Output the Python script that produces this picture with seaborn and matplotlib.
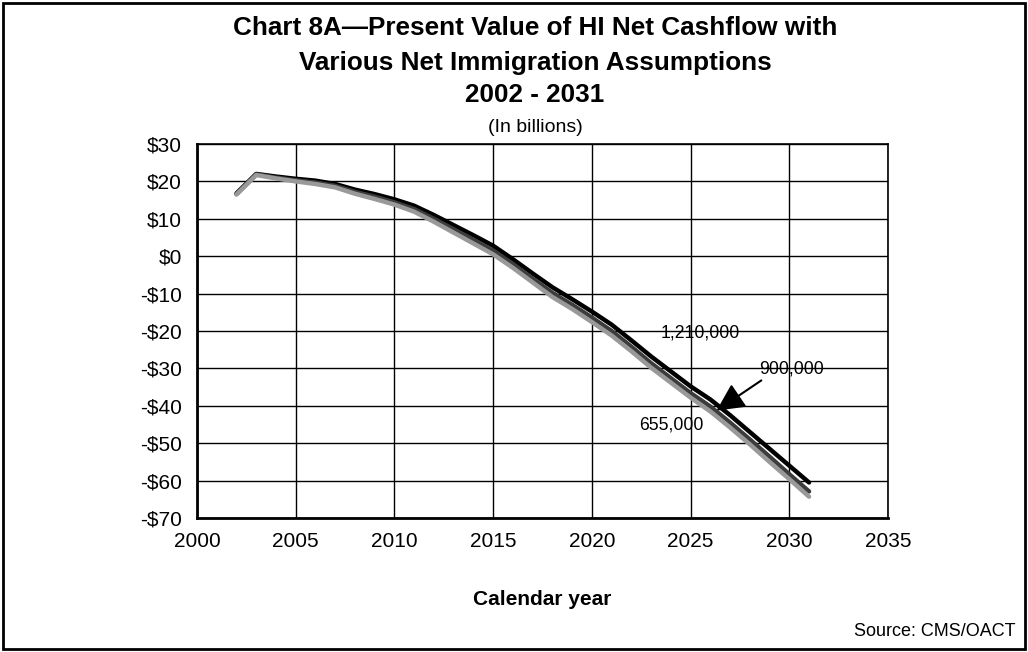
import numpy as np
import pandas as pd
import matplotlib
matplotlib.use("Agg")
import matplotlib.pyplot as plt
from matplotlib.patches import Rectangle
import seaborn as sns

# Present value of HI net cashflow (billions of dollars) by net immigration assumption
years = list(range(2002, 2032))
pv_1210k = [16.8, 22.0, 21.3, 20.7, 20.2, 19.3, 17.8, 16.6, 15.2, 13.5,
            11.0, 8.3, 5.6, 2.8, -0.8, -4.6, -8.3, -11.5, -14.8, -18.3,
            -22.5, -26.8, -30.8, -34.8, -38.3, -42.5, -47.0, -51.5, -56.0, -60.5]
pv_900k = [16.6, 21.9, 21.0, 20.3, 19.7, 18.8, 17.2, 15.9, 14.4, 12.6,
           10.0, 7.2, 4.4, 1.5, -2.1, -6.0, -9.8, -13.0, -16.4, -20.0,
           -24.2, -28.6, -32.6, -36.6, -40.2, -44.5, -49.0, -53.6, -58.3, -62.9]
pv_655k = [16.5, 21.7, 20.8, 20.0, 19.3, 18.4, 16.7, 15.3, 13.8, 11.9,
           9.2, 6.3, 3.4, 0.5, -3.1, -7.0, -10.9, -14.1, -17.6, -21.2,
           -25.4, -29.8, -33.8, -37.8, -41.5, -45.8, -50.3, -55.0, -59.6, -64.3]
scenarios = ["1,210,000", "900,000", "655,000"]
colors = ["#000000", "#3c3c3c", "#999999"]

x_ticks = list(range(2000, 2036, 5))
y_ticks = list(range(-70, 31, 10))

df = pd.DataFrame({
    "year": years * 3,
    "value": pv_1210k + pv_900k + pv_655k,
    "scenario": [s for s in scenarios for _ in years],
})

sns.set_style("white")
plt.rcParams["font.family"] = ["Liberation Sans", "DejaVu Sans"]
plt.rcParams["text.color"] = "black"
plt.rcParams["axes.labelcolor"] = "black"

fig = plt.figure(figsize=(10.28, 6.52), dpi=100)
ax = fig.add_axes([197 / 1028, 1 - 518 / 652, (888 - 197) / 1028, (518 - 144) / 652])

sns.lineplot(data=df, x="year", y="value", hue="scenario", hue_order=scenarios,
             palette=dict(zip(scenarios, colors)), linewidth=3.2, legend=False,
             ax=ax, zorder=3)

ax.set_xlim(2000, 2035)
ax.set_ylim(-70, 30)
ax.set_xticks(x_ticks)
ax.set_yticks(y_ticks)
ax.set_yticklabels([f"${v}" if v >= 0 else f"-${-v}" for v in y_ticks])
ax.tick_params(axis="both", length=0, labelsize=15, colors="black")
ax.tick_params(axis="y", pad=11)
ax.tick_params(axis="x", pad=10)
ax.grid(True, color="black", linewidth=1.0)
for side, sp in ax.spines.items():
    sp.set_visible(True)
    sp.set_color("black")
    sp.set_linewidth(2.0 if side in ("left", "bottom") else 1.2)

ax.set_xlabel("Calendar year", fontsize=15, fontweight="bold", labelpad=28)
ax.set_ylabel("")

# Scenario labels
ax.text(2025.5, -20.5, "1,210,000", fontsize=12.7, ha="center", va="center")
ax.text(2030.1, -30.2, "900,000", fontsize=12.7, ha="center", va="center")
ax.text(2024.0, -45.1, "655,000", fontsize=12.7, ha="center", va="center")
ax.annotate("", xy=(2026.2, -41.7), xytext=(2028.7, -32.8),
            arrowprops=dict(arrowstyle="-|>,head_length=1.7,head_width=0.85",
                            color="black", lw=1.5), zorder=5)

# Titles
tx = 535 / 1028
fig.text(tx, 1 - 28 / 652, "Chart 8A\u2014Present Value of HI Net Cashflow with",
         ha="center", va="center", fontsize=18.8, fontweight="bold")
fig.text(tx, 1 - 63 / 652, "Various Net Immigration Assumptions",
         ha="center", va="center", fontsize=18.8, fontweight="bold")
fig.text(tx, 1 - 95 / 652, "2002 - 2031",
         ha="center", va="center", fontsize=18.8, fontweight="bold")
fig.text(tx, 1 - 128 / 652, "(In billions)",
         ha="center", va="center", fontsize=14)
fig.text(1015 / 1028, 1 - 631 / 652, "Source: CMS/OACT",
         ha="right", va="center", fontsize=13)

# Outer frame
fig.patches.append(Rectangle((3 / 1028, 3 / 652), 1 - 6 / 1028, 1 - 6 / 652,
                             transform=fig.transFigure, fill=False,
                             edgecolor="black", linewidth=2))

fig.savefig("out.png", dpi=100, facecolor="white")
